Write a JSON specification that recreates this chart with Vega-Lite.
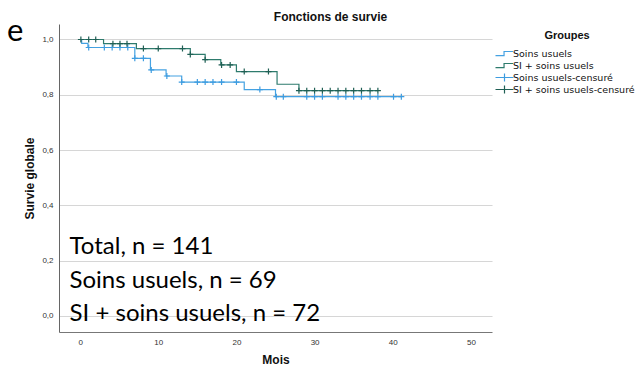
{
  "$schema": "https://vega.github.io/schema/vega-lite/v6.json",
  "autosize": {"type": "none"},
  "width": 433,
  "height": 308,
  "padding": {"left": 59, "top": 24, "right": 148, "bottom": 39},
  "background": "white",
  "title": {"text": "Fonctions de survie", "font": "Liberation Sans", "fontSize": 12, "fontWeight": "bold", "color": "#111", "anchor": "middle", "frame": "group", "dx": 55, "offset": -8},
  "config": {"view": {"stroke": null}, "font": "Liberation Sans"},
  "datasets": {
    "courbes": [
      {"mois": 0, "survie": 1.0, "serie": "Soins usuels"},
      {"mois": 0.2, "survie": 0.986, "serie": "Soins usuels"},
      {"mois": 1.0, "survie": 0.971, "serie": "Soins usuels"},
      {"mois": 7.0, "survie": 0.932, "serie": "Soins usuels"},
      {"mois": 9.0, "survie": 0.89, "serie": "Soins usuels"},
      {"mois": 11.0, "survie": 0.868, "serie": "Soins usuels"},
      {"mois": 13.0, "survie": 0.846, "serie": "Soins usuels"},
      {"mois": 21.0, "survie": 0.819, "serie": "Soins usuels"},
      {"mois": 25.0, "survie": 0.793, "serie": "Soins usuels"},
      {"mois": 41.1, "survie": 0.793, "serie": "Soins usuels"},
      {"mois": 0, "survie": 1.0, "serie": "SI + soins usuels"},
      {"mois": 3.0, "survie": 0.985, "serie": "SI + soins usuels"},
      {"mois": 7.2, "survie": 0.967, "serie": "SI + soins usuels"},
      {"mois": 14.1, "survie": 0.946, "serie": "SI + soins usuels"},
      {"mois": 16.0, "survie": 0.927, "serie": "SI + soins usuels"},
      {"mois": 18.0, "survie": 0.908, "serie": "SI + soins usuels"},
      {"mois": 20.0, "survie": 0.884, "serie": "SI + soins usuels"},
      {"mois": 25.2, "survie": 0.838, "serie": "SI + soins usuels"},
      {"mois": 28.0, "survie": 0.815, "serie": "SI + soins usuels"},
      {"mois": 38.1, "survie": 0.815, "serie": "SI + soins usuels"}
    ],
    "censures": [
      {"mois": 1.1, "survie": 0.971, "serie": "Soins usuels-censuré"},
      {"mois": 3.1, "survie": 0.971, "serie": "Soins usuels-censuré"},
      {"mois": 4.1, "survie": 0.971, "serie": "Soins usuels-censuré"},
      {"mois": 5.1, "survie": 0.971, "serie": "Soins usuels-censuré"},
      {"mois": 6.1, "survie": 0.971, "serie": "Soins usuels-censuré"},
      {"mois": 7.0, "survie": 0.932, "serie": "Soins usuels-censuré"},
      {"mois": 8.1, "survie": 0.932, "serie": "Soins usuels-censuré"},
      {"mois": 9.1, "survie": 0.89, "serie": "Soins usuels-censuré"},
      {"mois": 11.1, "survie": 0.868, "serie": "Soins usuels-censuré"},
      {"mois": 13.0, "survie": 0.846, "serie": "Soins usuels-censuré"},
      {"mois": 15.0, "survie": 0.846, "serie": "Soins usuels-censuré"},
      {"mois": 16.0, "survie": 0.846, "serie": "Soins usuels-censuré"},
      {"mois": 17.0, "survie": 0.846, "serie": "Soins usuels-censuré"},
      {"mois": 18.1, "survie": 0.846, "serie": "Soins usuels-censuré"},
      {"mois": 20.0, "survie": 0.846, "serie": "Soins usuels-censuré"},
      {"mois": 23.0, "survie": 0.819, "serie": "Soins usuels-censuré"},
      {"mois": 25.1, "survie": 0.793, "serie": "Soins usuels-censuré"},
      {"mois": 26.0, "survie": 0.793, "serie": "Soins usuels-censuré"},
      {"mois": 29.0, "survie": 0.793, "serie": "Soins usuels-censuré"},
      {"mois": 30.0, "survie": 0.793, "serie": "Soins usuels-censuré"},
      {"mois": 31.0, "survie": 0.793, "serie": "Soins usuels-censuré"},
      {"mois": 33.0, "survie": 0.793, "serie": "Soins usuels-censuré"},
      {"mois": 34.0, "survie": 0.793, "serie": "Soins usuels-censuré"},
      {"mois": 35.0, "survie": 0.793, "serie": "Soins usuels-censuré"},
      {"mois": 36.0, "survie": 0.793, "serie": "Soins usuels-censuré"},
      {"mois": 37.1, "survie": 0.793, "serie": "Soins usuels-censuré"},
      {"mois": 38.1, "survie": 0.793, "serie": "Soins usuels-censuré"},
      {"mois": 40.1, "survie": 0.793, "serie": "Soins usuels-censuré"},
      {"mois": 41.1, "survie": 0.793, "serie": "Soins usuels-censuré"},
      {"mois": 0.1, "survie": 1.0, "serie": "SI + soins usuels-censuré"},
      {"mois": 1.1, "survie": 1.0, "serie": "SI + soins usuels-censuré"},
      {"mois": 2.0, "survie": 1.0, "serie": "SI + soins usuels-censuré"},
      {"mois": 4.2, "survie": 0.985, "serie": "SI + soins usuels-censuré"},
      {"mois": 5.1, "survie": 0.985, "serie": "SI + soins usuels-censuré"},
      {"mois": 6.0, "survie": 0.985, "serie": "SI + soins usuels-censuré"},
      {"mois": 8.1, "survie": 0.967, "serie": "SI + soins usuels-censuré"},
      {"mois": 10.0, "survie": 0.967, "serie": "SI + soins usuels-censuré"},
      {"mois": 13.1, "survie": 0.967, "serie": "SI + soins usuels-censuré"},
      {"mois": 14.1, "survie": 0.946, "serie": "SI + soins usuels-censuré"},
      {"mois": 16.0, "survie": 0.927, "serie": "SI + soins usuels-censuré"},
      {"mois": 18.1, "survie": 0.908, "serie": "SI + soins usuels-censuré"},
      {"mois": 19.2, "survie": 0.908, "serie": "SI + soins usuels-censuré"},
      {"mois": 21.0, "survie": 0.884, "serie": "SI + soins usuels-censuré"},
      {"mois": 24.1, "survie": 0.884, "serie": "SI + soins usuels-censuré"},
      {"mois": 28.0, "survie": 0.815, "serie": "SI + soins usuels-censuré"},
      {"mois": 29.0, "survie": 0.815, "serie": "SI + soins usuels-censuré"},
      {"mois": 30.0, "survie": 0.815, "serie": "SI + soins usuels-censuré"},
      {"mois": 31.0, "survie": 0.815, "serie": "SI + soins usuels-censuré"},
      {"mois": 32.0, "survie": 0.815, "serie": "SI + soins usuels-censuré"},
      {"mois": 33.0, "survie": 0.815, "serie": "SI + soins usuels-censuré"},
      {"mois": 34.0, "survie": 0.815, "serie": "SI + soins usuels-censuré"},
      {"mois": 35.0, "survie": 0.815, "serie": "SI + soins usuels-censuré"},
      {"mois": 36.0, "survie": 0.815, "serie": "SI + soins usuels-censuré"},
      {"mois": 37.1, "survie": 0.815, "serie": "SI + soins usuels-censuré"},
      {"mois": 38.1, "survie": 0.815, "serie": "SI + soins usuels-censuré"}
    ]
  },
  "layer": [
    {
      "data": {"name": "courbes"},
      "mark": {"type": "line", "interpolate": "step-after", "strokeWidth": 1.2},
      "encoding": {
        "x": {"field": "mois", "type": "quantitative", "scale": {"domain": [-2.7, 52.7], "nice": false, "zero": false},
          "axis": {"title": "Mois", "values": [0, 10, 20, 30, 40, 50], "grid": false, "ticks": false, "domainColor": "#777", "domainWidth": 1, "labelFont": "Liberation Sans", "labelFontSize": 8, "labelColor": "#333", "labelPadding": 6, "titleFont": "Liberation Sans", "titleFontSize": 12, "titleFontWeight": "bold", "titleColor": "#111", "titlePadding": 8}},
        "y": {"field": "survie", "type": "quantitative", "scale": {"domain": [-0.058, 1.056], "nice": false, "zero": false},
          "axis": {"title": "Survie globale", "values": [0, 0.2, 0.4, 0.6, 0.8, 1.0], "labelExpr": "replace(format(datum.value, '.1f'), '.', ',')", "grid": true, "gridColor": "#d6d6d6", "gridWidth": 1.2, "ticks": false, "domainColor": "#666", "domainWidth": 1, "labelFont": "Liberation Sans", "labelFontSize": 8, "labelColor": "#333", "labelPadding": 6, "titleFont": "Liberation Sans", "titleFontSize": 12, "titleFontWeight": "bold", "titleColor": "#111", "titlePadding": 5}},
        "color": {"field": "serie", "type": "nominal",
          "scale": {"domain": ["Soins usuels", "SI + soins usuels", "Soins usuels-censuré", "SI + soins usuels-censuré"], "range": ["#45a2e2", "#2e7b6d", "#3d9ce0", "#1f5f54"]},
          "legend": {"title": "Groupes", "orient": "none", "legendX": 440, "legendY": 6, "columns": 1, "gridAlign": "all", "titleFont": "Liberation Sans", "titleFontSize": 11, "titleFontWeight": "bold", "titleColor": "#111", "titleAnchor": "middle", "titlePadding": 7, "labelFont": "DejaVu Sans", "labelFontSize": 9.5, "labelColor": "#111", "labelOffset": 3, "labelLimit": 300, "symbolSize": 81, "rowPadding": -2.3,
            "encode": {"symbols": {"update": {
              "shape": {"signal": "indexof(datum.value, 'censuré') >= 0 ? 'M-2,0H2M0,-0.9V0.9' : 'M-2,0.45H-0.1V-0.45H1.9'"},
              "fill": {"value": "transparent"},
              "strokeWidth": {"value": 1.2}}}}}}
      }
    },
    {
      "data": {"name": "censures"},
      "mark": {"type": "point", "shape": "M-1,0H1M0,-1V1", "size": 36, "strokeWidth": 1.2, "filled": false, "opacity": 1},
      "encoding": {
        "x": {"field": "mois", "type": "quantitative"},
        "y": {"field": "survie", "type": "quantitative"},
        "color": {"field": "serie", "type": "nominal"}
      }
    },
    {
      "data": {"values": [{"n": 1}]},
      "mark": {"type": "text", "text": ["Total, n = 141", "Soins usuels, n = 69", "SI + soins usuels, n = 72"], "font": "Lato", "fontSize": 24, "lineHeight": 33.7, "align": "left", "baseline": "alphabetic", "color": "#000"},
      "encoding": {"x": {"datum": -1.35}, "y": {"datum": 0.2242}}
    },
    {
      "data": {"values": [{"n": 1}]},
      "mark": {"type": "text", "text": "e", "font": "Lato", "fontSize": 31, "align": "left", "baseline": "alphabetic", "color": "#000"},
      "encoding": {"x": {"datum": -9.35}, "y": {"datum": 0.993}}
    }
  ]
}
